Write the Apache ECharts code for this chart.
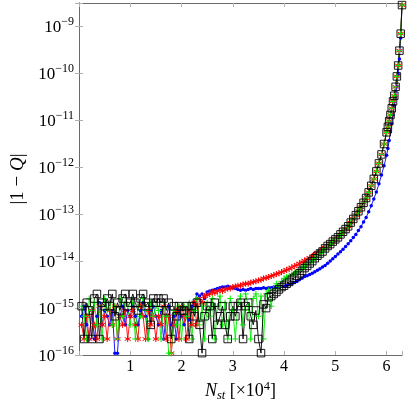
<!DOCTYPE html>
<html>
<head>
<meta charset="utf-8">
<script src="https://cdn.jsdelivr.net/npm/echarts@6/dist/echarts.min.js"></script>
<style>
html,body{margin:0;padding:0;background:#fff;}
#chart{width:407px;height:407px;}
</style>
</head>
<body>
<div id="chart"></div>
<script>
// N_st in units of 1e4
var nst = [
  0.05,0.1,0.15,0.2,0.25,0.3,0.35,0.4,0.45,0.5,
  0.55,0.6,0.65,0.7,0.75,0.8,0.85,0.9,0.95,1.0,
  1.05,1.1,1.15,1.2,1.25,1.3,1.35,1.4,1.45,1.5,
  1.55,1.6,1.65,1.7,1.75,1.8,1.85,1.9,1.95,2.0,
  2.05,2.1,2.15,2.2,2.25,2.3,2.35,2.4,2.45,2.5,
  2.55,2.6,2.65,2.7,2.75,2.8,2.85,2.9,2.95,3.0,
  3.05,3.1,3.15,3.2,3.25,3.3,3.35,3.4,3.45,3.5,
  3.55,3.6,3.65,3.7,3.75,3.8,3.85,3.9,3.95,4.0,
  4.05,4.1,4.15,4.2,4.25,4.3,4.35,4.4,4.45,4.5,
  4.55,4.6,4.65,4.7,4.75,4.8,4.85,4.9,4.95,5.0,
  5.05,5.1,5.15,5.2,5.25,5.3,5.35,5.4,5.45,5.5,
  5.55,5.6,5.65,5.7,5.75,5.8,5.85,5.9,5.95,6.0,
  6.025,6.05,6.075,6.1,6.125,6.15,6.175,6.2,6.225,6.25,6.275,6.3
];

var blueErr = [
  6.7e-16,1.1e-15,4.4e-16,2.2e-16,8.9e-16,2.2e-16,6.7e-16,1.3e-15,4.4e-16,8.9e-16,
  6.7e-16,4.4e-16,8.9e-16,1.1e-16,1.1e-16,6.7e-16,1.1e-15,4.4e-16,8.9e-16,6.7e-16,
  1.1e-15,6.7e-16,4.4e-16,8.9e-16,1.3e-15,6.7e-16,2.2e-16,8.9e-16,1.1e-15,6.7e-16,
  4.4e-16,8.9e-16,2.2e-16,6.7e-16,1.1e-15,4.4e-16,6.7e-16,2.2e-16,8.9e-16,6.7e-16,
  4.4e-16,6.7e-16,5.6e-16,1.1e-15,1.3e-15,2.0e-15,1.8e-15,2.0e-15,1.6e-15,2.2e-15,
  2.3e-15,2.4e-15,2.5e-15,2.6e-15,2.7e-15,2.8e-15,2.8e-15,2.9e-15,2.8e-15,2.7e-15,
  2.6e-15,2.5e-15,2.4e-15,2.5e-15,2.4e-15,2.5e-15,2.6e-15,2.5e-15,2.6e-15,2.6e-15,
  2.6e-15,2.7e-15,2.6e-15,2.7e-15,2.7e-15,2.8e-15,2.8e-15,2.9e-15,2.9e-15,2.9e-15,
  3.0e-15,3.2e-15,3.3e-15,3.5e-15,3.7e-15,4.0e-15,4.3e-15,4.7e-15,4.9e-15,5.2e-15,
  5.5e-15,5.9e-15,6.4e-15,6.9e-15,7.5e-15,8.1e-15,9.0e-15,1.0e-14,1.12e-14,1.26e-14,
  1.41e-14,1.58e-14,1.78e-14,2.04e-14,2.34e-14,2.7e-14,3.16e-14,3.7e-14,4.47e-14,5.4e-14,
  6.8e-14,8.5e-14,1.12e-13,1.51e-13,2.1e-13,2.95e-13,4.4e-13,6.8e-13,1.07e-12,1.78e-12,
  2.5e-12,3.7e-12,5.6e-12,8.5e-12,1.29e-11,2.0e-11,3.2e-11,5.2e-11,9.5e-11,2.0e-10,5.6e-10,2.8e-9
];

var redErr = [
  4.4e-16,2.2e-16,6.7e-16,2.2e-16,8.9e-16,4.4e-16,2.2e-16,1.1e-15,4.4e-16,6.7e-16,
  2.2e-16,8.9e-16,4.4e-16,1.1e-15,2.2e-16,6.7e-16,4.4e-16,8.9e-16,2.2e-16,6.7e-16,
  8.9e-16,4.4e-16,2.2e-16,1.1e-15,6.7e-16,2.2e-16,8.9e-16,4.4e-16,6.7e-16,2.2e-16,
  6.7e-16,4.4e-16,1.1e-15,2.2e-16,6.7e-16,1.1e-16,4.4e-16,8.9e-16,2.2e-16,1.1e-15,
  6.7e-16,2.2e-16,8.9e-16,4.4e-16,1.3e-15,4.4e-16,1.6e-15,1.3e-15,1.8e-15,1.9e-15,
  2.0e-15,2.2e-15,2.1e-15,2.3e-15,2.4e-15,2.3e-15,2.5e-15,2.6e-15,2.6e-15,2.8e-15,
  2.9e-15,3.0e-15,3.0e-15,3.2e-15,3.3e-15,3.3e-15,3.5e-15,3.6e-15,3.7e-15,3.9e-15,
  4.0e-15,4.3e-15,4.4e-15,4.6e-15,4.8e-15,5.0e-15,5.3e-15,5.5e-15,5.8e-15,6.2e-15,
  6.5e-15,6.9e-15,7.3e-15,7.8e-15,8.3e-15,8.9e-15,9.6e-15,1.02e-14,1.1e-14,1.17e-14,
  1.27e-14,1.38e-14,1.5e-14,1.62e-14,1.78e-14,1.95e-14,2.1e-14,2.34e-14,2.6e-14,2.9e-14,
  3.2e-14,3.7e-14,4.2e-14,4.8e-14,5.5e-14,6.6e-14,7.9e-14,9.5e-14,1.15e-13,1.4e-13,
  1.74e-13,2.2e-13,2.9e-13,4.0e-13,5.6e-13,8.1e-13,1.2e-12,1.86e-12,3.1e-12,5.5e-12,
  7.2e-12,9.5e-12,1.29e-11,1.78e-11,2.5e-11,3.3e-11,5.1e-11,8.5e-11,1.45e-10,3.0e-10,6.9e-10,2.8e-9
];

var greenErr = [
  1.1e-15,6.7e-16,2.2e-16,1.6e-15,8.9e-16,1.3e-15,4.4e-16,1.1e-15,2.2e-16,1.6e-15,
  8.9e-16,1.3e-15,4.4e-16,1.1e-15,2.2e-16,1.6e-15,6.7e-16,1.3e-15,1.1e-15,4.4e-16,
  1.3e-15,2.2e-16,1.1e-15,6.7e-16,1.6e-15,8.9e-16,2.2e-16,1.3e-15,6.7e-16,1.1e-15,
  8.9e-16,2.2e-16,1.3e-15,6.7e-16,1.1e-16,1.1e-16,8.9e-16,4.4e-16,1.1e-15,2.2e-16,
  1.1e-15,6.7e-16,1.3e-15,2.2e-16,8.9e-16,1.6e-15,4.4e-16,1.1e-15,2.2e-16,1.3e-15,
  6.7e-16,1.6e-15,2.2e-16,1.1e-15,1.8e-15,4.4e-16,1.3e-15,2.2e-16,1.6e-15,8.9e-16,
  2.2e-16,1.3e-15,1.8e-15,4.4e-16,2.0e-15,1.1e-15,2.2e-16,1.6e-15,2.0e-15,6.7e-16,
  1.8e-15,2.2e-16,2.0e-15,2.4e-15,1.1e-15,2.6e-15,3.3e-15,2.9e-15,3.7e-15,4.3e-15,
  4.6e-15,4.9e-15,5.2e-15,5.5e-15,5.9e-15,6.5e-15,7.1e-15,7.8e-15,8.5e-15,9.2e-15,
  1.03e-14,1.15e-14,1.3e-14,1.45e-14,1.62e-14,1.86e-14,2.1e-14,2.3e-14,2.6e-14,2.9e-14,
  3.2e-14,3.7e-14,4.2e-14,4.8e-14,5.5e-14,6.6e-14,7.9e-14,9.5e-14,1.15e-13,1.4e-13,
  1.74e-13,2.2e-13,2.9e-13,4.0e-13,5.6e-13,8.1e-13,1.2e-12,1.86e-12,3.1e-12,5.5e-12,
  7.2e-12,9.5e-12,1.29e-11,1.78e-11,2.5e-11,3.3e-11,5.1e-11,8.5e-11,1.45e-10,3.0e-10,6.9e-10,2.8e-9
];

var blackErr = [
  1.1e-15,2.2e-16,1.3e-15,8.9e-16,2.2e-16,1.6e-15,2.0e-15,2.2e-16,1.3e-15,1.1e-15,
  1.6e-15,1.1e-15,2.0e-15,6.7e-16,1.3e-15,8.9e-16,1.6e-15,2.0e-15,1.1e-15,1.3e-15,
  2.0e-15,1.3e-15,8.9e-16,1.6e-15,2.0e-15,1.1e-15,1.3e-15,4.4e-16,1.6e-15,1.3e-15,
  1.6e-15,1.3e-15,1.6e-15,8.9e-16,1.3e-15,2.2e-16,1.1e-15,6.7e-16,1.1e-15,8.9e-16,
  8.9e-16,1.1e-15,2.2e-16,1.1e-15,6.7e-16,1.3e-15,4.4e-16,1.1e-16,6.7e-16,1.1e-15,
  1.1e-15,2.2e-16,1.3e-15,4.4e-16,6.7e-16,1.1e-15,4.4e-16,2.2e-16,6.7e-16,1.1e-15,
  6.7e-16,1.1e-15,1.3e-15,2.2e-16,1.1e-15,1.3e-15,6.7e-16,4.4e-16,8.9e-16,2.2e-16,
  1.1e-16,1.2e-15,1.0e-15,1.7e-15,1.8e-15,2.0e-15,2.2e-15,2.5e-15,2.8e-15,3.0e-15,
  3.3e-15,3.6e-15,4.0e-15,4.4e-15,4.9e-15,5.5e-15,6.2e-15,7.1e-15,7.9e-15,8.9e-15,
  1.0e-14,1.15e-14,1.3e-14,1.45e-14,1.6e-14,1.86e-14,2.1e-14,2.3e-14,2.6e-14,2.9e-14,
  3.2e-14,3.7e-14,4.2e-14,4.8e-14,5.5e-14,6.6e-14,7.9e-14,9.5e-14,1.15e-13,1.4e-13,
  1.74e-13,2.2e-13,2.9e-13,4.0e-13,5.6e-13,8.1e-13,1.2e-12,1.86e-12,3.1e-12,5.5e-12,
  7.2e-12,9.5e-12,1.29e-11,1.78e-11,2.5e-11,3.3e-11,5.1e-11,8.5e-11,1.45e-10,3.0e-10,6.9e-10,2.8e-9
];

var xTicks = [1, 2, 3, 4, 5, 6];

var serif = '"Liberation Serif", "DejaVu Serif", serif';
var frameColor = '#6a6a6a';
var tickColor = '#b0b0b0';

function pairs(ys) {
  return nst.map(function (x, i) { return [x, ys[i]]; });
}

function powLabel(v) {
  var e = Math.log10(v), n = Math.round(e);
  if (Math.abs(e - n) > 1e-6) return '';
  return '{b|10}{s|' + (n < 0 ? '\u2212' : '') + Math.abs(n) + '}';
}

function xLabel(v) {
  return xTicks.indexOf(Math.round(v * 1000) / 1000) >= 0 ? String(Math.round(v)) : '';
}

var starPath = 'path://M0,-1L0,1M-0.866,-0.5L0.866,0.5M-0.866,0.5L0.866,-0.5';
var plusPath = 'path://M0,-1L0,1M-1,0L1,0';

function frameAxis(extra) {
  var a = {
    axisLine: { show: true, lineStyle: { color: frameColor, width: 1 } },
    axisTick: { show: true, inside: true, length: 4, lineStyle: { color: tickColor, width: 1 } },
    splitLine: { show: false },
    minorTick: { show: false }
  };
  for (var k in extra) a[k] = extra[k];
  return a;
}

var chart = echarts.init(document.getElementById('chart'));
var option = {
  animation: false,
  backgroundColor: '#fff',
  grid: { left: 79, right: 5, top: 3, bottom: 49, containLabel: false },
  xAxis: [
    frameAxis({
      type: 'value', min: 0, max: 6.3, interval: 1, position: 'bottom',
      axisLabel: { formatter: xLabel, fontFamily: serif, fontSize: 16, color: '#000', margin: 4 },
      name: '{i|N}{sub|st}{r| [\u00d710}{sup|4}{r|]}',
      nameLocation: 'middle', nameGap: 18,
      nameTextStyle: {
        rich: {
          i: { fontFamily: serif, fontStyle: 'italic', fontSize: 18, lineHeight: 22, color: '#000' },
          sub: { fontFamily: serif, fontStyle: 'italic', fontSize: 12.5, lineHeight: 14, verticalAlign: 'bottom', color: '#000' },
          r: { fontFamily: serif, fontSize: 18, lineHeight: 22, color: '#000' },
          sup: { fontFamily: serif, fontSize: 12.5, lineHeight: 9, verticalAlign: 'top', color: '#000' }
        }
      }
    }),
    frameAxis({
      type: 'value', min: 0, max: 6.3, interval: 1, position: 'top',
      axisLabel: { show: false }
    })
  ],
  yAxis: [
    frameAxis({
      type: 'log', logBase: 10, min: 1e-16, max: 3.1e-9, position: 'left',
      axisLabel: {
        formatter: powLabel, margin: 5,
        rich: {
          b: { fontFamily: serif, fontSize: 17, lineHeight: 20, verticalAlign: 'bottom', color: '#000' },
          s: { fontFamily: serif, fontSize: 12, lineHeight: 9, verticalAlign: 'top', color: '#000' }
        }
      },
      name: '{r||1 \u2212 }{i|Q}{r||}',
      nameLocation: 'middle', nameGap: 46,
      nameTextStyle: {
        rich: {
          r: { fontFamily: serif, fontSize: 19, color: '#000' },
          i: { fontFamily: serif, fontStyle: 'italic', fontSize: 19, color: '#000' }
        }
      }
    }),
    frameAxis({
      type: 'log', logBase: 10, min: 1e-16, max: 3.1e-9, position: 'right',
      axisLabel: { show: false }
    })
  ],
  series: [
    {
      type: 'line', name: 'blue', data: pairs(blueErr), silent: true,
      symbol: 'circle', symbolSize: 3.5,
      lineStyle: { color: '#0000ff', width: 0.9 },
      itemStyle: { color: '#0000ff', borderWidth: 0 }
    },
    {
      type: 'line', name: 'red', data: pairs(redErr), silent: true,
      symbol: starPath, symbolSize: 6,
      lineStyle: { color: '#ff0000', width: 0.9 },
      itemStyle: { color: '#ff0000', borderColor: '#ff0000', borderWidth: 1 }
    },
    {
      type: 'line', name: 'green', data: pairs(greenErr), silent: true,
      symbol: plusPath, symbolSize: 6,
      lineStyle: { color: '#00ee00', width: 0.9 },
      itemStyle: { color: '#00ee00', borderColor: '#00ee00', borderWidth: 1 }
    },
    {
      type: 'line', name: 'black', data: pairs(blackErr), silent: true,
      symbol: 'rect', symbolSize: 7.5,
      lineStyle: { color: '#000', width: 0.9 },
      itemStyle: { color: 'rgba(0,0,0,0)', borderColor: '#000', borderWidth: 0.9 }
    }
  ]
};
chart.setOption(option);
</script>
</body>
</html>
